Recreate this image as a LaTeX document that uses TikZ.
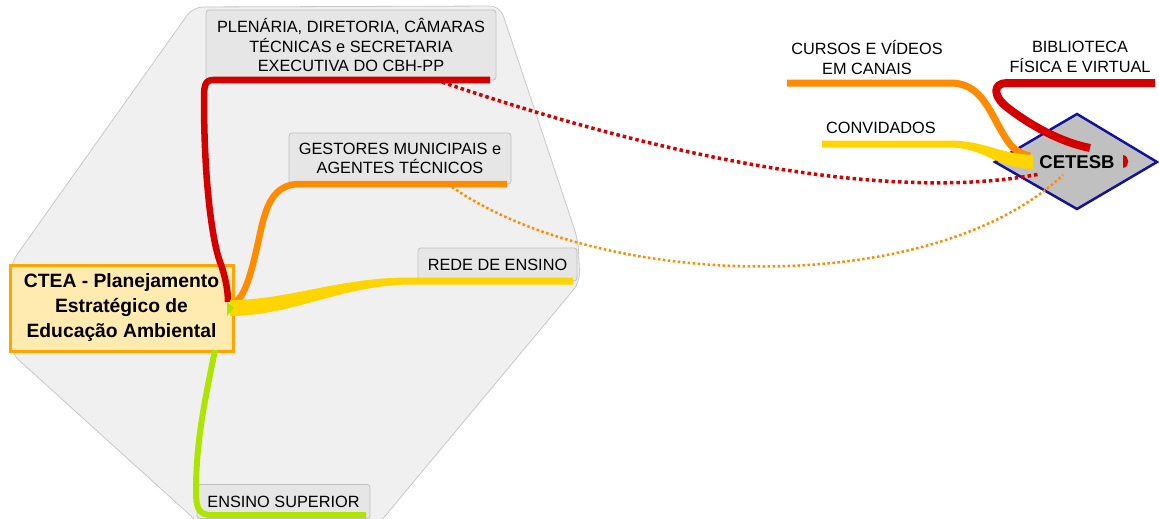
\documentclass[tikz,border=0pt]{standalone}
\usepackage{fontspec}
\setmainfont{Liberation Sans}
\definecolor{redc}{HTML}{D40000}
\definecolor{orgc}{HTML}{FF8C00}
\definecolor{yelc}{HTML}{FFD500}
\definecolor{grnc}{HTML}{AEE500}
\definecolor{polyfill}{HTML}{F0F0F0}
\definecolor{polyline}{HTML}{C8C8C8}
\definecolor{boxfill}{HTML}{E6E6E6}
\definecolor{boxline}{HTML}{C0C0C0}
\definecolor{ctfill}{HTML}{FFEBB0}
\definecolor{ctline}{HTML}{FFA500}
\definecolor{dmfill}{HTML}{C0C0C0}
\definecolor{dmline}{HTML}{12129C}
\begin{document}
\begin{tikzpicture}[x=1pt,y=-1pt,
  lblbox/.style={draw=boxline, fill=boxfill, rounded corners=3pt, line width=0.8pt, inner sep=0pt, align=center, font=\fontsize{16.3}{19.5}\selectfont, text=black},
  plain/.style={inner sep=0pt, align=center, font=\fontsize{16.3}{19.5}\selectfont, text=black},
  centralbox/.style={draw=ctline, fill=ctfill, line width=3pt, inner sep=0pt, align=center, font=\bfseries\fontsize{19.3}{25}\selectfont, text=black},
  branch/.style={line cap=butt, line join=round},
  reddot/.style={draw=redc, line width=3.5pt, dash pattern=on 3.5pt off 3pt},
  orgdot/.style={draw=orgc, line width=2.5pt, dash pattern=on 2.5pt off 2.5pt}
]
\useasboundingbox (0,0) rectangle (1159,519);
\clip (0,0) rectangle (1159,519);
% background region
\draw[draw=polyline, fill=polyfill, line width=0.8pt, rounded corners=10pt]
  (11,263) -- (193,7) -- (500,6) -- (578,240) -- (580,282) -- (361,545) -- (223,545) -- (11,353) -- cycle;

% label boxes
\node[lblbox, minimum width=290, minimum height=70] (plen) at (351,45) {PLENÁRIA, DIRETORIA, CÂMARAS\\TÉCNICAS e SECRETARIA\\EXECUTIVA DO CBH-PP};
\node[lblbox, minimum width=222, minimum height=51] (gest) at (400,158.5) {GESTORES MUNICIPAIS e\\AGENTES TÉCNICOS};
\node[lblbox, minimum width=159, minimum height=33] (rede) at (497.5,264.5) {REDE DE ENSINO};
\node[lblbox, minimum width=173, minimum height=34] (ens) at (283.5,501.5) {ENSINO SUPERIOR};

% central node
\node[centralbox, minimum width=223, minimum height=86] (ctea) at (121.5,308) {CTEA - Planejamento\\Estratégico de\\Educação Ambiental};

% branch ends
\coordinate (plenEnd) at (490,80);
\coordinate (ctRed) at (228,302);
\coordinate (gestEnd) at (507,184);
\coordinate (ctOrg) at (234,303);
\coordinate (redeEnd) at (573,281);
\coordinate (ctYel) at (230,308);
\coordinate (ctGrn) at (215,350);
\coordinate (ensEnd) at (366,515);

% red branch
\draw[branch, redc, line width=6.5pt] (plenEnd) -- (213,80) .. controls (204,80) and (204,88) .. (204,100)
  .. controls (204,180) and (212,240) .. (220,262) .. controls (225,275) and (228,290) .. (ctRed);
% orange branch
\draw[branch, orgc, line width=6.5pt] (gestEnd) -- (300,184) .. controls (277,184) and (268,200) .. (262,225)
  .. controls (255,255) and (248,296) .. (ctOrg);
% yellow branch (tapered)
\fill[yelc] (ctYel) ++(0,-8) .. controls (290,300) and (338,277.5) .. (410,277.5) -- (redeEnd |- 0,277.5)
  -- (redeEnd |- 0,284.5) -- (410,284.5) .. controls (342,285) and (292,316) .. (230,316) -- cycle;
% green branch
\draw[branch, grnc, line width=6pt] (ctGrn) .. controls (205,400) and (196,440) .. (196,492)
  .. controls (196,510) and (200,515) .. (212,515) -- (ensEnd);
\fill[grnc] (227,302) -- (234,308) -- (227,316) -- cycle;

% right side
\node[plain] (cursos) at (867,57.5) {CURSOS E VÍDEOS\\EM CANAIS};
\node[plain] (conv) at (881,128) {CONVIDADOS};
\node[plain] (bib) at (1080,57) {BIBLIOTECA\\FÍSICA E VIRTUAL};

\draw[draw=dmline, fill=dmfill, line width=2.5pt, line join=miter] (995,162) -- (1077,114) -- (1157,162) -- (1077,209) -- cycle;
\node[inner sep=0pt, font=\bfseries\fontsize{18.5}{20}\selectfont, text=black] (cetesb) at (1077,162) {CETESB};

\coordinate (cursStart) at (787,83);
\coordinate (cetOrg) at (1030,156);
\coordinate (convStart) at (822,144);
\coordinate (cetYel) at (1033,162);
\coordinate (bibStart) at (1155,83);
\coordinate (cetRed) at (1090,148);

\draw[branch, orgc, line width=7pt] (cursStart) -- (950,83) .. controls (975,83) and (985,100) .. (998,125)
  .. controls (1008,142) and (1012,152) .. (cetOrg);
\fill[yelc] (convStart) ++(0,-3.5) -- (950,140.5) .. controls (985,141) and (1000,154) .. (1033,155)
  -- (1033,169) .. controls (995,168) and (985,148) .. (950,147.5) -- (822,147.5) -- cycle;
\draw[branch, redc, line width=8pt] (bibStart) -- (1007,83) .. controls (993,83) and (992,96) .. (1008,108)
  .. controls (1030,125) and (1060,142) .. (cetRed);
\fill[redc] (1123,155) .. controls (1130,156) and (1130,167) .. (1123,168) -- cycle;

% dotted links
\coordinate (plenDot) at (436,80);
\coordinate (cetDotR) at (1040,174);
\coordinate (gestDot) at (452,187);
\coordinate (cetDotO) at (1063,175);
\draw[reddot] (plenDot) .. controls (640,150) and (880,205) .. (cetDotR);
\draw[orgdot] (gestDot) .. controls (600,290) and (930,300) .. (cetDotO);
\end{tikzpicture}
\end{document}
